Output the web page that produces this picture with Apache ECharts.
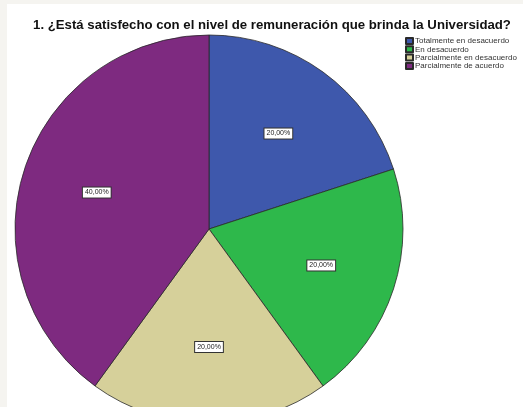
<!DOCTYPE html>
<html><head><meta charset="utf-8">
<script src="https://cdn.jsdelivr.net/npm/echarts@6/dist/echarts.min.js"></script>
<style>html,body{margin:0;padding:0;background:#f5f4f0}#c{width:523px;height:407px}</style>
</head><body><div id="c"></div>
<script>
const titleText = '1. ¿Está satisfecho con el nivel de remuneración que brinda la Universidad?';
const categories = ['Totalmente en desacuerdo','En desacuerdo','Parcialmente en desacuerdo','Parcialmente de acuerdo'];
const values = [20, 20, 20, 40];
const colors = ['#3e58ac','#2eb84b','#d6d09a','#7e2a80'];

const chart = echarts.init(document.getElementById('c'), null, {renderer:'canvas'});
const data = categories.map((n,i)=>({name:n, value:values[i], itemStyle:{color:colors[i]}}));
const total = values.reduce((a,b)=>a+b,0);
chart.setOption({
  animation:false,
  backgroundColor:'#f5f4f0',
  graphic:[{type:'rect', shape:{x:7,y:4,width:520,height:410}, style:{fill:'#ffffff'}, z:-10}],
  title:{text:titleText, left:272, top:19, textAlign:'center', padding:0,
    textStyle:{fontFamily:'Liberation Sans', fontWeight:'bold', fontSize:13.2, color:'#111'}},
  legend:{orient:'vertical', left:405, top:36, padding:0, itemWidth:7, itemHeight:6, itemGap:-1.7,
    icon:'rect', selectedMode:false,
    textStyle:{fontFamily:'Liberation Sans', fontSize:8, lineHeight:10, color:'#333', padding:[0,0,0,-3]},
    data:categories},
  series:[
    {type:'pie', center:[209,229], radius:[0,194], startAngle:90, clockwise:true,
     silent:true, data:data,
     itemStyle:{borderColor:'#2a2a2a', borderWidth:0.8},
     label:{show:false}, labelLine:{show:false}},
    {type:'pie', center:[209,229], radius:[0,230], startAngle:90, clockwise:true,
     silent:true, legendHoverLink:false,
     data:categories.map((n,i)=>({name:n+' ', value:values[i], itemStyle:{color:'rgba(0,0,0,0)'}})),
     label:{show:true, position:'inside', formatter:p=>(p.value/total*100).toFixed(2).replace('.',',')+'%',
       fontFamily:'Liberation Sans', fontSize:7, color:'#222', backgroundColor:'#ffffff',
       borderColor:'#333', borderWidth:1, padding:[2,2,1,2]},
     labelLine:{show:false}}
  ]
});
</script></body></html>
